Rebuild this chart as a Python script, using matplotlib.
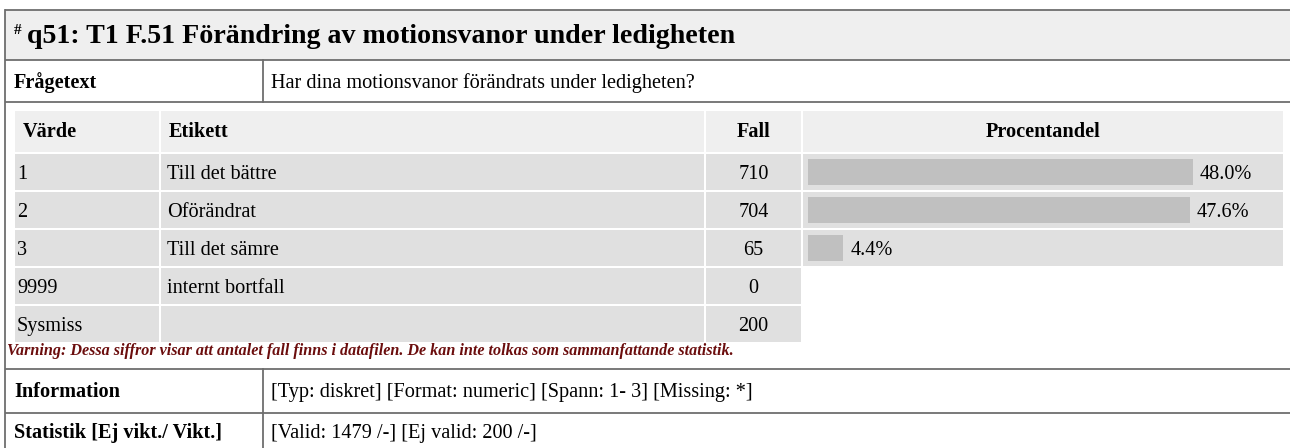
"""
Frequency table for q51 (F.51) drawn as a figure
"""
import matplotlib.pyplot as plt
from matplotlib.patches import Rectangle

plt.rcParams['font.family'] = ['Liberation Serif', 'DejaVu Serif']

# table data
title = "q51: T1 F.51 Förändring av motionsvanor under ledigheten"
question = "Har dina motionsvanor förändrats under ledigheten?"
headers = ["Värde", "Etikett", "Fall", "Procentandel"]
values = ["1", "2", "3", "9999", "Sysmiss"]
labels = ["Till det bättre", "Oförändrat", "Till det sämre", "internt bortfall", ""]
cases = [710, 704, 65, 0, 200]
pcts = [48.0, 47.6, 4.4]
warning = ("Varning: Dessa siffror visar att antalet fall finns i datafilen. "
           "De kan inte tolkas som sammanfattande statistik.")
info_label = "Information"
info_text = "[Typ: diskret] [Format: numeric] [Spann: 1- 3] [Missing: *]"
stat_label = "Statistik [Ej vikt./ Vikt.]"
stat_text = "[Valid: 1479 /-] [Ej valid: 200 /-]"

W, H = 1290, 448
HEAD_BG = "#efefef"
ROW_BG = "#e0e0e0"
BAR_C = "#c0c0c0"
LINE_C = "#6e6e6e"
BODY = 14.6

fig = plt.figure(figsize=(W / 100, H / 100), dpi=100)
ax = fig.add_axes([0, 0, 1, 1])
ax.set_xlim(0, W)
ax.set_ylim(H, 0)
ax.axis("off")


def cell(x0, x1, y0, y1, color):
    ax.add_patch(Rectangle((x0, y0), x1 - x0, y1 - y0, facecolor=color,
                           edgecolor="none"))


def hline(y, x0=5, x1=W):
    ax.plot([x0, x1], [y, y], color=LINE_C, lw=1.3, solid_capstyle="butt")


# outer frame
cell(5, W, 10, 60, HEAD_BG)
hline(10)
hline(60)
hline(102)
hline(369)
hline(413)
ax.plot([5, 5], [10, H], color=LINE_C, lw=1.3)
ax.plot([263, 263], [60, 102], color=LINE_C, lw=1.3)
ax.plot([263, 263], [369, H], color=LINE_C, lw=1.3)

ax.text(14, 34, "#", fontsize=11, fontweight="bold", va="baseline")
ax.text(27, 43, title, fontsize=20.2, fontweight="bold", va="baseline")
ax.text(14, 88, "Frågetext", fontsize=BODY, fontweight="bold", va="baseline")
ax.text(271, 88, question, fontsize=BODY, va="baseline")

# inner frequency table
cols = [(15, 159), (161, 704), (706, 801), (803, 1283)]
head_top, head_bot = 111, 152
row_h = 38
for (x0, x1), h in zip(cols, headers):
    cell(x0, x1, head_top, head_bot, HEAD_BG)
ax.text(23, 137, headers[0], fontsize=BODY, fontweight="bold", va="baseline")
ax.text(169, 137, headers[1], fontsize=BODY, fontweight="bold", va="baseline")
ax.text(sum(cols[2]) / 2, 137, headers[2], fontsize=BODY, fontweight="bold",
        va="baseline", ha="center")
ax.text(sum(cols[3]) / 2, 137, headers[3], fontsize=BODY, fontweight="bold",
        va="baseline", ha="center")

for i, (v, lab, n) in enumerate(zip(values, labels, cases)):
    y0 = 154 + i * row_h
    y1 = y0 + row_h - 2
    ncols = 4 if i < len(pcts) else 3
    for x0, x1 in cols[:ncols]:
        cell(x0, x1, y0, y1, ROW_BG)
    yb = y0 + 25
    ax.text(17, yb, v, fontsize=BODY, va="baseline")
    ax.text(167, yb, lab, fontsize=BODY, va="baseline")
    ax.text(sum(cols[2]) / 2, yb, str(n), fontsize=BODY, va="baseline",
            ha="center")

# percentage bars
px_per_pct = 8.02
bx0, bx1 = 803, 1283
bax = fig.add_axes([bx0 / W, 1 - (153 + 3 * row_h) / H, (bx1 - bx0) / W,
                    3 * row_h / H])
bax.patch.set_visible(False)
bax.axis("off")
bax.set_xlim(-5 / px_per_pct, (bx1 - bx0 - 5) / px_per_pct)
bax.set_ylim(len(pcts) - 0.5, -0.5)
rows = list(range(len(pcts)))
bax.barh(rows, pcts, height=26 / row_h, color=BAR_C, left=0)
for r, p in zip(rows, pcts):
    bax.annotate(f"{p:.1f}%", (p, r), xytext=(7, -2), textcoords="offset pixels",
                 fontsize=BODY, va="center", ha="left")

ax.text(7, 355, warning, fontsize=11.6, fontweight="bold", style="italic",
        color="#6b0d0d", va="baseline")

ax.text(14, 397, info_label, fontsize=BODY, fontweight="bold", va="baseline")
ax.text(271, 397, info_text, fontsize=BODY, va="baseline")
ax.text(14, 438, stat_label, fontsize=BODY, fontweight="bold", va="baseline")
ax.text(271, 438, stat_text, fontsize=BODY, va="baseline")

fig.savefig("out.png", dpi=100)
